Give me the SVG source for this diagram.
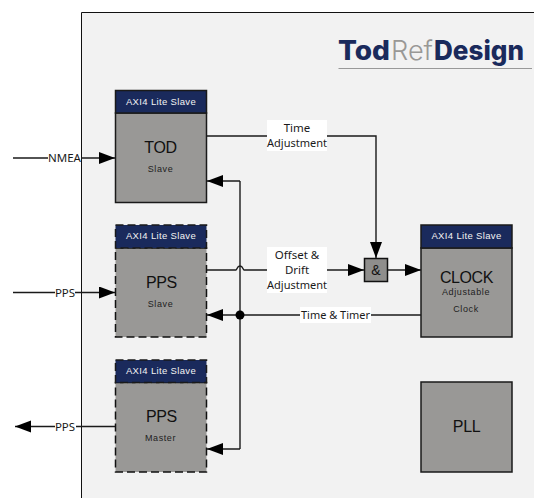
<svg xmlns="http://www.w3.org/2000/svg" width="534" height="498" viewBox="0 0 534 498">
<defs>
<marker id="arr" markerUnits="userSpaceOnUse" markerWidth="17" markerHeight="14" refX="16" refY="6" orient="auto"><path d="M0 0L16 6L0 12Z" fill="#000"/></marker>
</defs>
<style>
.box{fill:#999896;stroke:#1a1a1a;stroke-width:1.5}
.dash{stroke:#111;stroke-dasharray:8 4}
.hdr{fill:#1a2a5c;stroke:#1a1a1a;stroke-width:1.5}
.ht{font:9.5px "Liberation Sans",Arial,sans-serif;fill:#f2f2f2;text-anchor:middle;letter-spacing:.35px}
.big{font:16px "Liberation Sans",Arial,sans-serif;fill:#111;text-anchor:middle;letter-spacing:-.4px}
.sm{font:9px "Liberation Sans",Arial,sans-serif;fill:#222;text-anchor:middle;letter-spacing:.6px}
.lbl{font:11.500px "Noto Sans",Arial,sans-serif;fill:#1a1a1a;text-anchor:middle}
.w{fill:#fff}
.c{fill:none;stroke:#1a1a1a;stroke-width:1.4}
.a{marker-end:url(#arr)}
.lg{font-family:Inter,sans-serif;font-size:27px;font-weight:800;fill:#1a2a5c}
</style>
<rect x="0" y="0" width="534" height="498" fill="#fff"/>
<path d="M534 12.500H81.500V498H534Z" fill="#f2f2f2"/>
<path d="M534 12.500H81.500V498" fill="none" stroke="#111" stroke-width="1"/>
<g id="logo">
<text class="lg" x="338" y="60" textLength="52" lengthAdjust="spacingAndGlyphs">Tod</text>
<text class="lg" x="391" y="60" textLength="42" lengthAdjust="spacingAndGlyphs" style="font-weight:300;fill:#999896">Ref</text>
<text class="lg" x="434" y="60" textLength="90" lengthAdjust="spacingAndGlyphs">Design</text>
<path d="M338.500 68.500H532" stroke="#999" stroke-width="1" fill="none"/>
</g>
<g id="connectors">
<path class="c" d="M13 158H48"/>
<path class="c a" d="M81 158H115"/>
<path class="c" d="M206 136H267"/>
<path class="c a" d="M327 136H376V258"/>
<path class="c" d="M240 449V181"/>
<path class="c a" d="M240 181H207"/>
<path class="c a" d="M240 449H207"/>
<path class="c" d="M206 270H236C237 270 237 266 240 266C243 266 243 270 244 270H267"/>
<path class="c a" d="M327 270H364"/>
<path class="c a" d="M388 270H421"/>
<path class="c" d="M421 315H371"/>
<path class="c a" d="M300 315H207"/>
<circle cx="240" cy="315" r="4.500" fill="#000"/>
<path class="c" d="M13 292.500H55"/>
<path class="c a" d="M75 292.500H115"/>
<path class="c a" d="M55 426.500H15"/>
<path class="c" d="M76 426.500H115"/>
</g>
<g id="node-tod">
<rect class="box" x="115.500" y="113" width="91" height="89.500"/>
<rect class="hdr" x="115.500" y="90.500" width="91" height="22.500"/>
<text class="ht" x="161" y="105">AXI4 Lite Slave</text>
<text class="big" x="160.500" y="153">TOD</text>
<text class="sm" x="160.500" y="172">Slave</text>
</g>
<g id="node-pps-slave">
<rect class="box dash" x="115.500" y="248" width="91" height="89"/>
<rect class="hdr dash" x="115.500" y="225" width="91" height="23"/>
<text class="ht" x="161" y="239">AXI4 Lite Slave</text>
<text class="big" x="161.500" y="288">PPS</text>
<text class="sm" x="160.500" y="307">Slave</text>
</g>
<g id="node-pps-master">
<rect class="box dash" x="115.500" y="382.500" width="91" height="89.500"/>
<rect class="hdr dash" x="115.500" y="360" width="91" height="22.500"/>
<text class="ht" x="161" y="374">AXI4 Lite Slave</text>
<text class="big" x="161.500" y="422">PPS</text>
<text class="sm" x="160.500" y="441">Master</text>
</g>
<g id="node-and">
<rect x="364.500" y="258.500" width="23" height="23" fill="#8f8e8c" stroke="#111" stroke-width="1.500"/>
<text x="376" y="275" font-family="Liberation Sans,sans-serif" font-size="14" fill="#111" text-anchor="middle">&amp;</text>
</g>
<g id="node-clock">
<rect class="box" x="421" y="248" width="91" height="89"/>
<rect class="hdr" x="421" y="225" width="91" height="23"/>
<text class="ht" x="466.500" y="239">AXI4 Lite Slave</text>
<text class="big" x="466.500" y="283">CLOCK</text>
<text class="sm" x="466" y="295">Adjustable</text>
<text class="sm" x="466" y="312">Clock</text>
</g>
<g id="node-pll">
<rect class="box" x="421" y="382" width="91" height="90"/>
<text class="big" x="466.500" y="432">PLL</text>
</g>
<g id="labels">
<text class="lbl" x="64.500" y="162">NMEA</text>
<text class="lbl" x="65" y="296.500">PPS</text>
<text class="lbl" x="65" y="430.500">PPS</text>
<rect class="w" x="267" y="120" width="60" height="31"/>
<text class="lbl" x="297" y="132">Time</text>
<text class="lbl" x="297" y="147" textLength="60" lengthAdjust="spacingAndGlyphs">Adjustment</text>
<rect class="w" x="267" y="247" width="60" height="46"/>
<text class="lbl" x="297" y="259">Offset &amp;</text>
<text class="lbl" x="297" y="274">Drift</text>
<text class="lbl" x="297" y="289" textLength="60" lengthAdjust="spacingAndGlyphs">Adjustment</text>
<rect class="w" x="300" y="307" width="71" height="16"/>
<text class="lbl" x="335.500" y="319" textLength="69" lengthAdjust="spacingAndGlyphs">Time &amp; Timer</text>
</g>
</svg>
